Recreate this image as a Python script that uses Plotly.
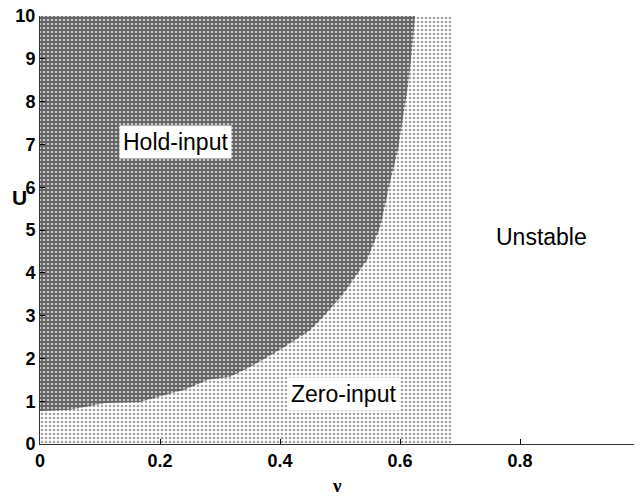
import plotly.graph_objects as go

# Boundary of the hold-input stable region (nu, U)
nu_boundary = [0.0, 0.05, 0.11, 0.167, 0.22, 0.24, 0.28, 0.317, 0.35, 0.40, 0.45, 0.467,
               0.505, 0.545, 0.567, 0.583, 0.597, 0.605, 0.613, 0.62, 0.625]
U_boundary = [0.77, 0.80, 0.96, 0.98, 1.19, 1.26, 1.50, 1.57, 1.80, 2.20, 2.66, 2.90,
              3.50, 4.30, 5.07, 6.10, 6.90, 7.64, 8.34, 9.20, 10.0]

# Zero-input stable region limits
nu_zero_max = 0.685
U_min, U_max = 0.0, 10.0

x_ticks = [0, 0.2, 0.4, 0.6, 0.8, 1]
x_tick_text = ["0", "0.2", "0.4", "0.6", "0.8", "1"]
y_ticks = list(range(0, 11))

labels = [
    dict(text="Hold-input", x=0.225, y=7.05),
    dict(text="Zero-input", x=0.505, y=1.17),
    dict(text="Unstable", x=0.836, y=4.84),
]

fig = go.Figure()

# Zero-input region (dotted)
fig.add_trace(go.Scatter(
    x=[0, nu_zero_max, nu_zero_max, 0, 0],
    y=[U_min, U_min, U_max, U_max, U_min],
    fill="toself", mode="none",
    fillcolor="white",
    fillpattern=dict(shape=".", size=4, solidity=0.35, fgcolor="#444444", bgcolor="white"),
    hoverinfo="skip", showlegend=False,
))

# Hold-input region (dense crosshatch)
hx = nu_boundary + [0, nu_boundary[0]]
hy = U_boundary + [U_max, U_boundary[0]]
fig.add_trace(go.Scatter(
    x=hx, y=hy,
    fill="toself", mode="none",
    fillcolor="white",
    fillpattern=dict(shape="+", size=4, solidity=0.7, fgcolor="#000000", bgcolor="#c8c8c8"),
    hoverinfo="skip", showlegend=False,
))

for lab in labels:
    fig.add_annotation(
        x=lab["x"], y=lab["y"], text=lab["text"], showarrow=False,
        font=dict(family="Liberation Sans", size=23, color="black"),
        bgcolor="white", borderpad=3, xanchor="center", yanchor="middle",
    )

# Axis titles as annotations (MATLAB style)
fig.add_annotation(x=0.495, y=-0.098, xref="paper", yref="paper", text="ν", showarrow=False,
                   font=dict(family="Liberation Serif", size=19, color="black", weight="bold"),
                   xanchor="center", yanchor="middle")
fig.add_annotation(x=-0.018, y=5.75, xref="paper", yref="y", text="U", showarrow=False,
                   font=dict(family="Liberation Sans", size=21, color="black", weight="bold"),
                   xanchor="right", yanchor="middle")

tickfont = dict(family="Liberation Sans", size=18, color="black", weight="bold")

# The page body adds an 8px offset; size the figure so the plot area lands where the reference has it.
fig.update_layout(
    width=634, height=489,
    margin=dict(l=32, r=2, t=8, b=53),
    paper_bgcolor="white", plot_bgcolor="white",
    xaxis=dict(range=[0, 1], tickvals=x_ticks, ticktext=x_tick_text, ticks="inside",
               ticklen=5, tickcolor="black", showline=True, linecolor="#333333", linewidth=1,
               showgrid=False, zeroline=False, tickfont=tickfont, fixedrange=True,
               automargin=False, ticklabeloverflow="allow"),
    yaxis=dict(range=[0, 10], tickvals=y_ticks, ticks="inside", ticklen=5, tickcolor="black",
               showline=True, linecolor="#333333", linewidth=1, showgrid=False, zeroline=False,
               tickfont=tickfont, fixedrange=True, automargin=False, ticklabeloverflow="allow"),
)

fig.write_html("out.html")
